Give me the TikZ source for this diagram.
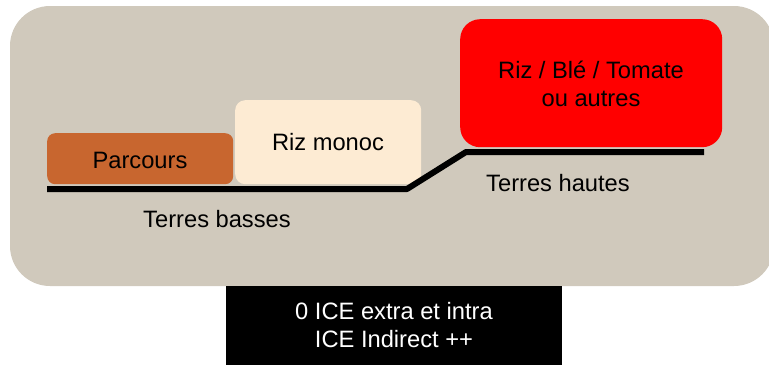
\documentclass[tikz,border=0pt]{standalone}
\usepackage{fontspec}
\setmainfont{Liberation Sans}
\definecolor{bgtan}{HTML}{D0C9BC}
\definecolor{parc}{HTML}{C8662F}
\definecolor{rizm}{HTML}{FDEBD3}
\tikzset{
  crop/.style={rectangle, anchor=north west, inner sep=0pt, align=center, font=\fontsize{23.5}{27.5}\selectfont},
  lbl/.style={inner sep=0pt, align=center, font=\fontsize{23.7}{27.5}\selectfont},
  ground/.style={line width=6pt, line join=bevel}
}
\begin{document}
\begin{tikzpicture}[x=1pt,y=-1pt]
\useasboundingbox (0,0) rectangle (769,365);
\begin{scope}
\clip (0,0) rectangle (769,365);
\fill[bgtan, rounded corners=40pt] (10,6) rectangle (774,286);
\end{scope}
\node[crop, fill=parc, rounded corners=8pt, minimum width=186pt, minimum height=51pt] (parcours) at (47,133) {};
\node[lbl] (parcourstxt) at (140,160) {Parcours};
\node[crop, fill=rizm, rounded corners=10pt, minimum width=186pt, minimum height=84pt] (riz) at (235,100) {};
\node[lbl] (riztxt) at (328,142) {Riz monoc};
\node[crop, fill=red, rounded corners=20pt, minimum width=262pt, minimum height=128pt] (haut) at (460,19) {};
\node[lbl] (hauttxt) at (591,84) {Riz / Blé / Tomate\\ou autres};
\coordinate (a) at (47,189);
\coordinate (b) at (407,189);
\coordinate (c) at (466,152);
\coordinate (d) at (704,152);
\draw[ground] (a) -- (b) -- (c) -- (d);
\node[lbl] (tb) at (217,219) {Terres basses};
\node[lbl] (th) at (558,183) {Terres hautes};
\node[crop, fill=black, minimum width=336pt, minimum height=79pt] (ice) at (226,286) {};
\node[lbl, text=white] (icetxt) at (394,325) {0 ICE extra et intra\\ICE Indirect ++};
\end{tikzpicture}
\end{document}
